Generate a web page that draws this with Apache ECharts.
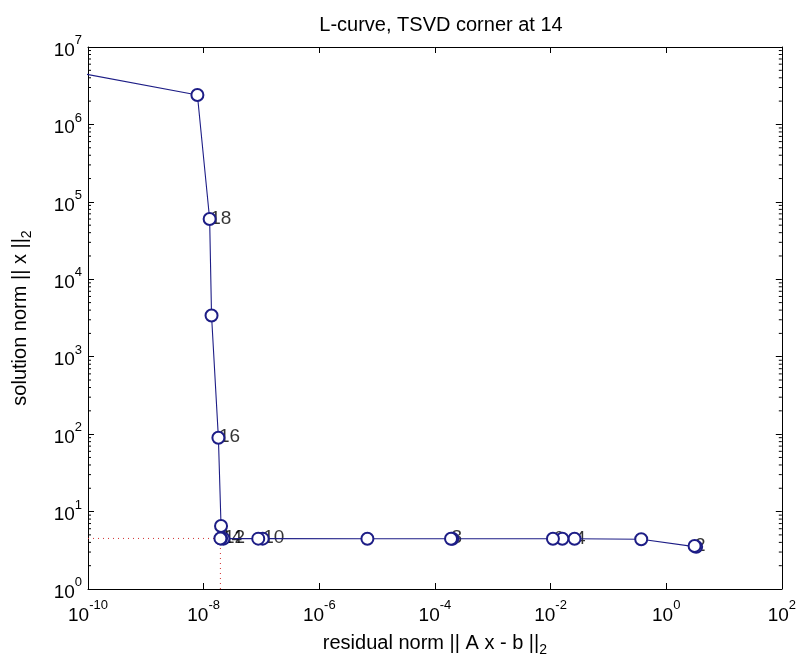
<!DOCTYPE html>
<html>
<head>
<meta charset="utf-8">
<script src="https://cdn.jsdelivr.net/npm/echarts@6/dist/echarts.min.js"></script>
<style>
  html, body { margin: 0; padding: 0; background: #ffffff; }
  #chart { width: 799px; height: 662px; }
</style>
</head>
<body>
<div id="chart"></div>
<script>
// TSVD L-curve: residual norm vs solution norm for truncation k = 1..20
const kValues = [1, 2, 3, 4, 5, 6, 7, 8, 9, 10, 11, 12, 13, 14, 15, 16, 17, 18, 19, 20];
const residualNorm = [3.3, 3.1, 0.37, 2.6e-2, 1.6e-2, 1.1e-2, 2.0e-4, 1.9e-4, 6.8e-6, 1.05e-7,
                      8.8e-8, 2.2e-8, 2.0e-8, 1.95e-8, 2.0e-8, 1.8e-8, 1.37e-8, 1.27e-8, 7.8e-9, 3e-11];
const solutionNorm = [3.5, 3.6, 4.4, 4.45, 4.45, 4.45, 4.46, 4.46, 4.46, 4.47,
                      4.47, 4.47, 4.48, 4.5, 6.5, 90, 3.4e3, 6.0e4, 2.4e6, 5.2e6];
const labelledK = [2, 4, 6, 8, 10, 12, 14, 16, 18, 20];
const cornerK = 14;

const xTickMin = 1e-10, xTickMax = 1e2;
const yTickMin = 1e0, yTickMax = 1e7;
// minor ticks on the solution-norm axis: 2..9 times each decade
const yMinorTicks = [];
for (let d = 0; d < 7; d++) {
  for (let m = 2; m <= 9; m++) yMinorTicks.push(m * Math.pow(10, d));
}

const FONT = 'Liberation Sans';
const LINE = '#1d1d86';

const curve = kValues.map((k, i) => [residualNorm[i], solutionNorm[i]]);
const labelPts = labelledK.map(k => [residualNorm[k - 1], solutionNorm[k - 1], k]);
const ci = cornerK - 1;
const cornerH = [[xTickMin, solutionNorm[ci]], [residualNorm[ci], solutionNorm[ci]]];
const cornerV = [[residualNorm[ci], yTickMin], [residualNorm[ci], solutionNorm[ci]]];

function powLabel(v) {
  const e = Math.round(Math.log10(v));
  return '{b|10}{s|' + e + '}';
}
const rich = {
  b: { fontFamily: FONT, fontSize: 19, color: '#000', padding: [7, 0, 0, 0] },
  s: { fontFamily: FONT, fontSize: 13, color: '#000', verticalAlign: 'top', padding: [0, 0, 9, 0] }
};
const subRich = { sub: { fontFamily: FONT, fontSize: 14, color: '#000', verticalAlign: 'bottom', padding: [14, 0, 0, 0] } };

const axisCommon = {
  axisLine: { show: true, lineStyle: { color: '#000', width: 1 } },
  axisTick: { show: true, inside: true, length: 6, lineStyle: { color: '#000' } },
  splitLine: { show: false },
  minorTick: { show: false },
  axisPointer: { show: false }
};

const chart = echarts.init(document.getElementById('chart'), null, { renderer: 'canvas' });
chart.setOption({
  animation: false,
  backgroundColor: '#ffffff',
  title: {
    text: 'L-curve, TSVD corner at ' + cornerK,
    left: 436, top: 10, textAlign: 'center',
    textStyle: { fontFamily: FONT, fontSize: 20, fontWeight: 'normal', color: '#000' }
  },
  grid: { left: 88, right: 14, top: 47, bottom: 73 },
  xAxis: [
    Object.assign({}, axisCommon, {
      type: 'log', min: xTickMin, max: xTickMax, interval: 2, position: 'bottom',
      name: 'residual norm || A x - b ||{sub|2}', nameLocation: 'middle', nameGap: 40,
      nameTextStyle: { fontFamily: FONT, fontSize: 20, color: '#000', rich: subRich },
      axisLabel: { formatter: powLabel, rich: rich, margin: 10 }
    }),
    Object.assign({}, axisCommon, {
      type: 'log', min: xTickMin, max: xTickMax, interval: 2, position: 'top',
      axisLabel: { show: false }
    })
  ],
  yAxis: [
    Object.assign({}, axisCommon, {
      type: 'log', min: yTickMin, max: yTickMax, interval: 1, position: 'left',
      name: 'solution norm || x ||{sub|2}', nameLocation: 'middle', nameGap: 54, nameRotate: 90,
      nameTextStyle: { fontFamily: FONT, fontSize: 20, color: '#000', rich: subRich },
      axisLabel: { formatter: powLabel, rich: rich, margin: 6 }
    }),
    Object.assign({}, axisCommon, {
      type: 'log', min: yTickMin, max: yTickMax, interval: 1, position: 'right',
      axisLabel: { show: false }
    })
  ],
  series: [
    {
      type: 'line', data: cornerH, symbol: 'none', silent: true, clip: true,
      lineStyle: { color: '#d03030', width: 1, type: [1, 4] }
    },
    {
      type: 'line', data: cornerV, symbol: 'none', silent: true, clip: true,
      lineStyle: { color: '#d03030', width: 1, type: [1, 4] }
    },
    {
      type: 'line', data: curve, clip: true, silent: true,
      symbol: 'emptyCircle', symbolSize: 12, showAllSymbol: true,
      lineStyle: { color: LINE, width: 1.1 },
      itemStyle: { color: LINE, borderColor: LINE, borderWidth: 1.1 }
    },
    {
      type: 'scatter', data: labelPts, symbolSize: 1, silent: true, clip: true,
      itemStyle: { color: 'rgba(0,0,0,0)' },
      label: {
        show: true, position: [1, 0], align: 'left', verticalAlign: 'middle',
        formatter: p => String(p.value[2]),
        fontFamily: FONT, fontSize: 19, color: '#000'
      }
    },
    {
      type: 'custom', silent: true, clip: true, data: yMinorTicks,
      renderItem: function (params, api) {
        const v = api.value(0);
        const l = api.coord([xTickMin, v]);
        const r = api.coord([xTickMax, v]);
        return {
          type: 'group',
          children: [
            { type: 'line', shape: { x1: l[0], y1: l[1], x2: l[0] + 3, y2: l[1] }, style: { stroke: '#000', lineWidth: 1 } },
            { type: 'line', shape: { x1: r[0] - 3, y1: r[1], x2: r[0], y2: r[1] }, style: { stroke: '#000', lineWidth: 1 } }
          ]
        };
      },
      encode: { y: 0 }
    }
  ]
});
</script>
</body>
</html>
